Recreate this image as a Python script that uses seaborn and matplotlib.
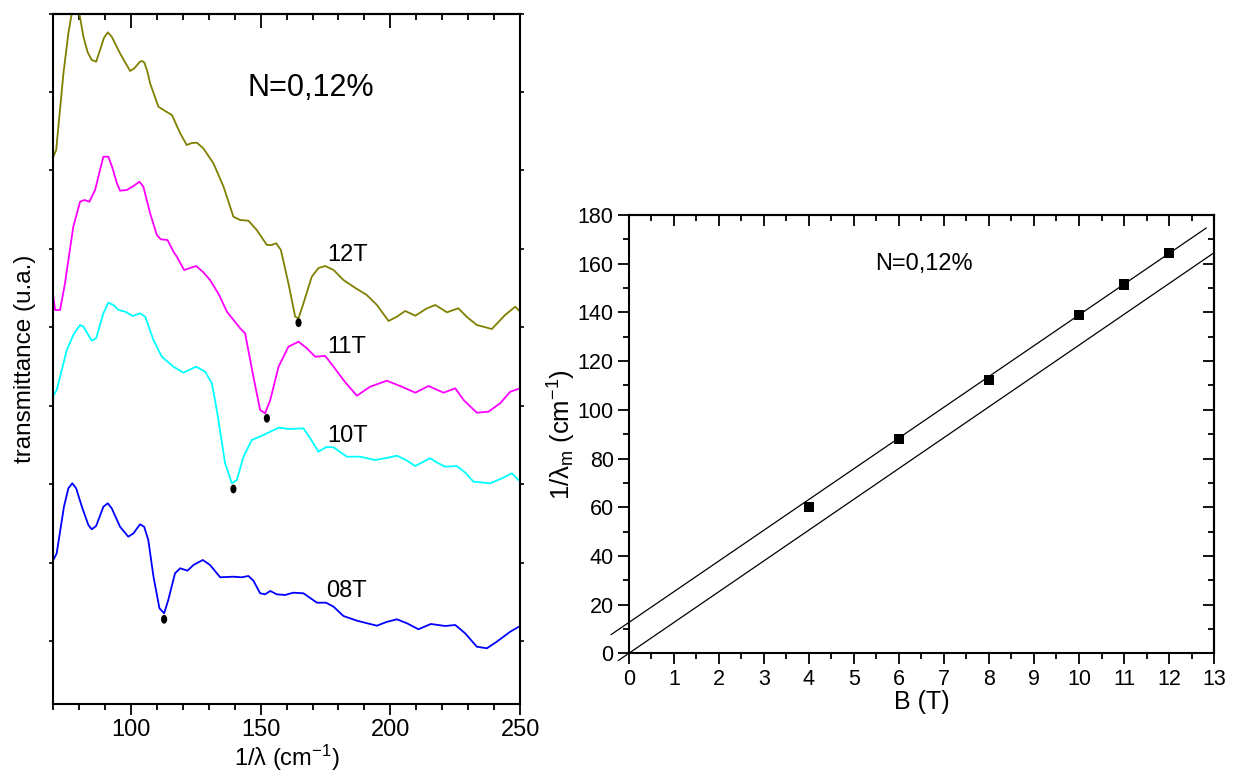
import numpy as np
import pandas as pd
import matplotlib
matplotlib.use("Agg")
import matplotlib.pyplot as plt
from matplotlib import font_manager
from matplotlib.path import Path
from matplotlib.markers import MarkerStyle
from matplotlib.ticker import MultipleLocator, FixedLocator, NullFormatter
import seaborn as sns

# ---------------- data: left panel (spectra, transmittance in arbitrary units) ----------
x_12T = [70.1, 71.2, 74.0, 75.9, 77.2, 78.7, 80.1, 81.7, 83.3, 84.9, 86.6, 88.1, 89.6, 91.1, 92.6,
         94.2, 95.8, 99.7, 101.3, 102.4, 103.5, 104.4, 105.2, 106.3, 107.4, 110.6, 113.2,
         115.8, 119.0, 121.5, 123.5, 125.4, 127.9, 131.8, 135.7, 139.5, 142.1, 145.3, 148.5,
         152.4, 154.2, 156.0, 157.8, 160.7, 163.3, 164.6, 166.5, 169.7, 172.3, 174.9, 178.1,
         181.9, 186.5, 190.9, 194.8, 199.3, 202.5, 205.7, 209.6, 214.1, 217.3, 221.8, 226.2,
         229.5, 233.3, 239.1, 244.2, 248.1, 250.0]
y_12T = [54.73, 55.4, 63.07, 67.07, 69.05, 70.5, 69.1, 66.73, 65.2, 64.4, 64.23, 65.4, 66.6,
         67.17, 66.73, 65.9, 65.07, 63.3, 63.57, 63.9, 64.23, 64.3, 64.13, 63.3, 62.07, 59.73,
         59.3, 58.9, 57.07, 55.9, 56.1, 56.13, 55.57, 54.07, 51.73, 48.73, 48.4, 48.33, 47.4,
         45.9, 45.9, 46.07, 45.4, 42.07, 38.73, 38.57, 40.07, 42.73, 43.6, 43.8, 43.4, 42.4,
         41.6, 40.9, 39.9, 38.3, 38.73, 39.3, 38.83, 39.57, 39.9, 39.17, 39.57, 38.7, 37.9,
         37.5, 38.9, 39.73, 39.23]

x_11T = [70.1, 70.8, 72.7, 74.6, 75.9, 77.8, 80.4, 82.1, 84.0, 86.2, 88.0, 89.4, 91.3, 92.9,
         94.6, 95.8, 98.4, 101.0, 103.3, 104.8, 107.4, 110.0, 111.5, 114.1, 116.4, 117.7,
         120.5, 122.8, 125.1, 127.8, 130.5, 134.0, 137.0, 142.1, 144.0, 147.2, 149.8, 151.7,
         153.7, 156.9, 160.7, 164.6, 167.8, 171.0, 174.9, 178.1, 182.5, 187.1, 192.2, 198.6,
         204.4, 209.6, 214.7, 220.5, 225.0, 228.2, 233.3, 237.8, 242.3, 246.2, 250.0]
y_11T = [40.73, 39.4, 39.4, 42.07, 44.4, 47.73, 50.23, 50.4, 50.23, 51.4, 53.3, 54.73, 54.73,
         53.6, 52.07, 51.33, 51.4, 51.8, 52.23, 51.73, 49.07, 46.9, 46.47, 46.4, 45.23, 44.73,
         43.4, 43.6, 43.8, 43.2, 42.4, 40.9, 39.23, 37.57, 37.07, 32.73, 29.4, 29.07, 30.4,
         33.73, 35.73, 36.23, 35.57, 34.73, 34.8, 33.73, 32.2, 30.83, 31.73, 32.33, 31.73,
         31.13, 31.8, 31.13, 31.57, 30.4, 29.13, 29.23, 30.07, 31.23, 31.57]

x_10T = [70.1, 71.4, 75.3, 78.0, 80.4, 81.7, 84.9, 86.6, 89.4, 91.3, 93.3, 95.2, 97.8, 100.7,
         103.5, 105.5, 108.7, 111.9, 116.4, 120.2, 125.1, 128.6, 131.2, 133.1, 136.3, 138.9,
         140.8, 143.4, 146.6, 151.1, 156.9, 161.4, 166.5, 169.1, 172.3, 175.3, 178.1, 183.2,
         188.3, 194.1, 198.5, 202.5, 206.0, 209.6, 212.5, 215.3, 218.3, 221.1, 225.6, 229.0,
         232.0, 238.5, 243.0, 246.8, 250.0]
y_10T = [30.8, 31.4, 35.4, 37.0, 37.9, 37.73, 36.33, 36.57, 39.07, 40.13, 39.9, 39.4, 39.23,
         38.8, 39.07, 38.73, 36.4, 34.73, 33.73, 33.13, 33.73, 33.23, 32.07, 29.4, 24.07, 22.07,
         22.4, 24.73, 26.4, 26.9, 27.63, 27.5, 27.57, 26.57, 25.23, 25.7, 25.67, 24.73, 24.73,
         24.4, 24.6, 24.83, 24.4, 23.8, 24.2, 24.57, 24.1, 23.73, 23.8, 23.1, 22.23, 22.07,
         22.57, 23.07, 22.23]

x_08T = [70.1, 71.4, 74.2, 75.9, 77.4, 78.9, 81.1, 83.6, 84.9, 86.6, 89.4, 91.1, 92.6, 95.8, 99.0,
         101.0, 103.5, 105.1, 106.7, 108.7, 111.0, 112.8, 114.4, 117.0, 119.0, 121.8, 124.1,
         127.7, 130.5, 134.4, 139.5, 142.7, 145.3, 147.2, 149.8, 151.7, 153.7, 156.2, 159.4,
         162.6, 166.5, 171.7, 175.2, 178.1, 181.9, 187.1, 194.8, 198.5, 202.5, 206.4, 210.8,
         215.6, 221.1, 225.0, 228.8, 233.3, 237.2, 241.0, 246.2, 250.0]
y_08T = [14.4, 15.07, 19.73, 21.57, 22.07, 21.57, 19.73, 17.9, 17.47, 17.8, 19.73, 20.07, 19.57,
         17.73, 16.73, 17.07, 17.97, 17.73, 16.4, 12.73, 9.57, 9.07, 10.4, 13.07, 13.57, 13.33,
         13.9, 14.4, 13.9, 12.67, 12.73, 12.67, 12.8, 12.33, 11.07, 10.97, 11.3, 10.97, 10.9,
         11.13, 11.07, 10.13, 10.13, 9.73, 8.8, 8.33, 7.83, 8.2, 8.47, 8.07, 7.47, 8.0, 7.8,
         7.9, 7.07, 5.73, 5.57, 6.23, 7.23, 7.8]

curve_labels = ["12T", "11T", "10T", "08T"]
curve_colors = ["#808000", "#FF00FF", "#00FFFF", "#0000FF"]
label_x = [175.6, 175.6, 175.6, 175.2]
label_y = [44.9, 35.7, 26.8, 11.3]
min_x = [164.6, 152.4, 139.5, 112.8]
min_y = [38.13, 28.57, 21.5, 8.47]

# ---------------- data: right panel ----------------
B_T = [4, 6, 8, 10, 11, 12]
inv_lambda_m = [60.0, 88.0, 112.3, 139.0, 151.5, 164.4]
fit_upper_B = [-0.4, 12.83]
fit_upper_y = [7.65, 174.7]
fit_lower_B = [-0.24, 13.0]
fit_lower_y = [-3.0, 164.5]

# ---------------- style ----------------
sns.set_style("ticks")
avail = {f.name for f in font_manager.fontManager.ttflist}
main_font = "Liberation Sans" if "Liberation Sans" in avail else "DejaVu Sans"
narrow_font = "Liberation Sans Narrow" if "Liberation Sans Narrow" in avail else main_font
plt.rcParams["font.family"] = [main_font, "DejaVu Sans"]
plt.rcParams["mathtext.fontset"] = "custom"
plt.rcParams["mathtext.rm"] = main_font
plt.rcParams["mathtext.it"] = main_font + ":italic"
plt.rcParams["axes.linewidth"] = 1.5
plt.rcParams["axes.edgecolor"] = "black"
plt.rcParams["lines.solid_joinstyle"] = "round"
for key in ["text.color", "axes.labelcolor", "xtick.color", "ytick.color"]:
    plt.rcParams[key] = "black"

fig = plt.figure(figsize=(12.34, 7.76), dpi=100)
axL = fig.add_axes([0.0430, 0.0928, 0.3785, 0.8898])
axR = fig.add_axes([0.5097, 0.1581, 0.4741, 0.5648])

# ---------------- left panel ----------------
series = [(x_12T, y_12T), (x_11T, y_11T), (x_10T, y_10T), (x_08T, y_08T)]
for (xs, ys), lab, col in zip(series, curve_labels, curve_colors):
    df = pd.DataFrame({"x": xs, "y": ys})
    sns.lineplot(data=df, x="x", y="y", ax=axL, color=col, lw=1.3, estimator=None, sort=False)

t = np.linspace(0, 2 * np.pi, 40)
ell = Path(np.column_stack([0.7 * np.cos(t), np.sin(t)]), closed=True)
sns.scatterplot(x=min_x, y=min_y, ax=axL, marker=MarkerStyle(ell), s=40, color="black",
                edgecolor="none", zorder=5)

for lab, lx, ly in zip(curve_labels, label_x, label_y):
    axL.text(lx, ly, lab, fontsize=17, ha="left", va="center")
axL.text(144.8, 61.6, "N=0,12%", fontsize=22, ha="left", va="center")

axL.set_xlim(70, 250)
axL.set_ylim(0, 69.05)
axL.xaxis.set_major_locator(FixedLocator([100, 150, 200, 250]))
axL.xaxis.set_minor_locator(MultipleLocator(10))
axL.yaxis.set_major_locator(FixedLocator(np.arange(69.05, 0, -7.85)))
axL.yaxis.set_major_formatter(NullFormatter())
axL.tick_params(axis="x", which="major", direction="out", length=8, width=1.3, labelsize=17,
                top=False, pad=3)
axL.tick_params(axis="x", which="minor", direction="out", length=4, width=1.3, top=False)
axL.tick_params(axis="y", which="major", direction="out", length=3, width=1.2, left=True,
                right=True)
sec = axL.secondary_xaxis("top")
sec.xaxis.set_major_locator(FixedLocator([100, 150, 200, 250]))
sec.xaxis.set_minor_locator(MultipleLocator(10))
sec.tick_params(axis="x", which="major", direction="in", length=10, width=1.3, labeltop=False)
sec.tick_params(axis="x", which="minor", direction="in", length=4, width=1.3)
sec.spines["top"].set_linewidth(1.5)
axL.set_xlabel("1/λ (cm$^{-1}$)", fontsize=17, labelpad=1)
axL.set_ylabel("transmittance (u.a.)", fontsize=17.5, labelpad=6)
for s in axL.spines.values():
    s.set_linewidth(1.5)

# ---------------- right panel ----------------
sns.scatterplot(x=B_T, y=inv_lambda_m, ax=axR, marker="s", s=55, color="black",
                edgecolor="none", zorder=5)
sns.lineplot(x=fit_upper_B, y=fit_upper_y, ax=axR, color="black", lw=0.9, estimator=None,
             sort=False)
sns.lineplot(x=fit_lower_B, y=fit_lower_y, ax=axR, color="black", lw=0.9, estimator=None,
             sort=False)
for ln in axR.lines:
    ln.set_clip_on(False)

axR.set_xlim(0, 13)
axR.set_ylim(0, 180)
axR.xaxis.set_major_locator(MultipleLocator(1))
axR.xaxis.set_minor_locator(MultipleLocator(0.5))
axR.yaxis.set_major_locator(MultipleLocator(20))
axR.yaxis.set_minor_locator(MultipleLocator(10))
axR.tick_params(axis="both", which="major", direction="out", length=8, width=1.3,
                labelsize=15.5, pad=3)
axR.tick_params(axis="both", which="minor", direction="out", length=4.5, width=1.3)
for lbl in axR.get_xticklabels() + axR.get_yticklabels():
    lbl.set_fontfamily([narrow_font, "DejaVu Sans"])

secR = axR.secondary_xaxis("top")
secR.xaxis.set_major_locator(MultipleLocator(1))
secR.xaxis.set_minor_locator(MultipleLocator(0.5))
secR.tick_params(axis="x", which="major", direction="in", length=8, width=1.3, labeltop=False)
secR.tick_params(axis="x", which="minor", direction="in", length=4.5, width=1.3)
secRy = axR.secondary_yaxis("right")
secRy.yaxis.set_major_locator(MultipleLocator(20))
secRy.yaxis.set_minor_locator(MultipleLocator(10))
secRy.tick_params(axis="y", which="major", direction="in", length=8, width=1.3, labelright=False)
secRy.tick_params(axis="y", which="minor", direction="in", length=4.5, width=1.3)

axR.text(5.47, 160, "N=0,12%", fontsize=17, ha="left", va="center",
         family=[narrow_font, "DejaVu Sans"])
axR.set_xlabel("B (T)", fontsize=18, labelpad=0, family=[narrow_font, "DejaVu Sans"])
axR.set_ylabel("1/λ$_{\\rm m}$ (cm$^{-1}$)", fontsize=18.5, labelpad=-0.5,
               family=[narrow_font, "DejaVu Sans"])
for s in axR.spines.values():
    s.set_linewidth(1.5)

fig.savefig("out.png", dpi=100)
